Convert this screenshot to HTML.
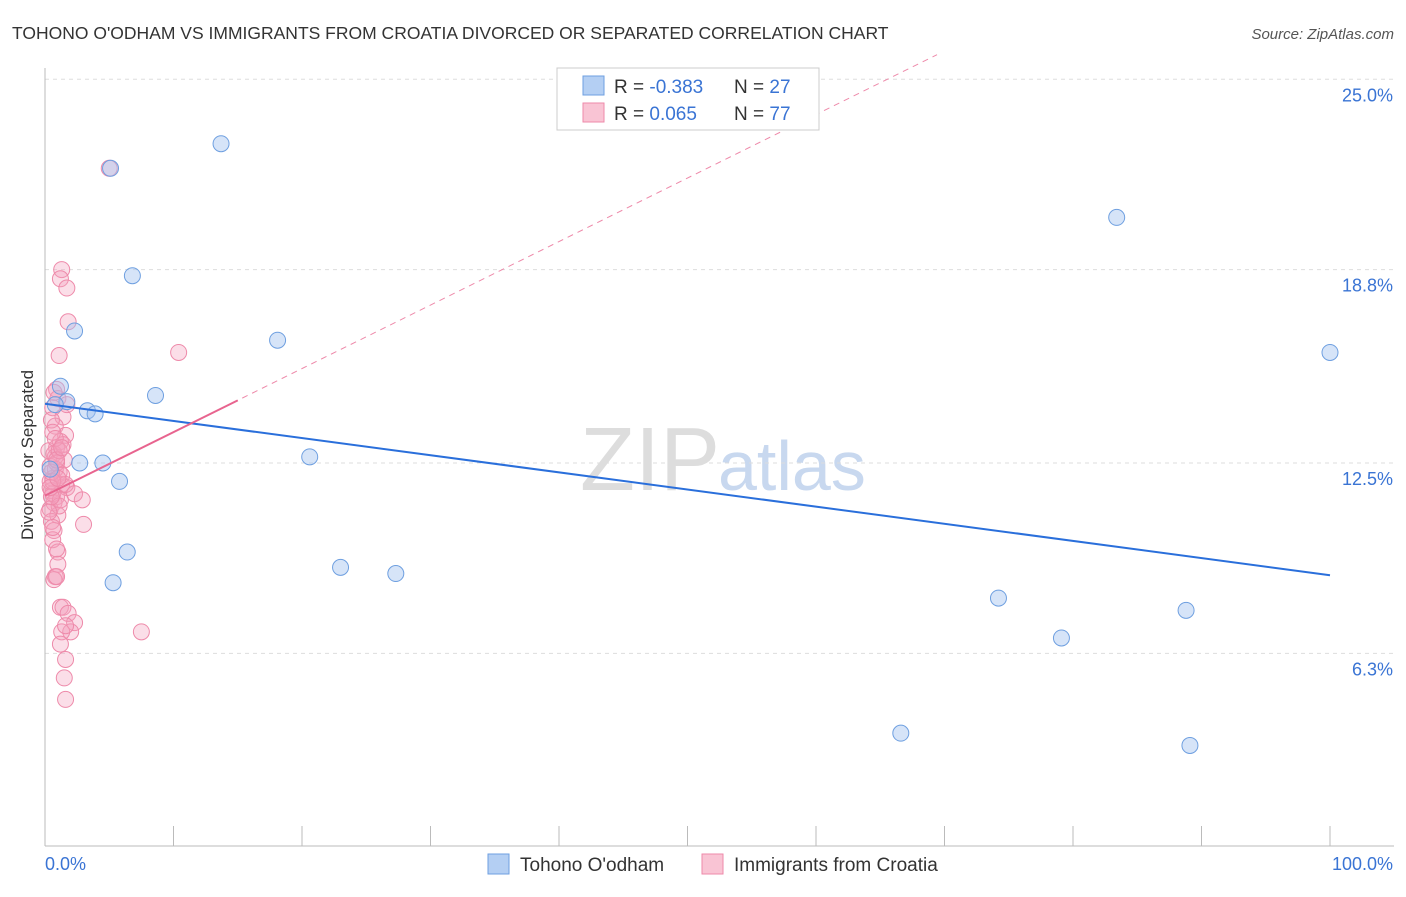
<!DOCTYPE html>
<html><head><meta charset="utf-8"><style>
body{margin:0;background:#fff;font-family:"Liberation Sans",sans-serif}
svg text{font-family:"Liberation Sans",sans-serif}
</style></head><body>
<svg width="1406" height="892" id="c">
<text x="12" y="39" font-size="17.5" fill="#333">TOHONO O'ODHAM VS IMMIGRANTS FROM CROATIA DIVORCED OR SEPARATED CORRELATION CHART</text>
<text x="1394" y="39" font-size="15" fill="#555" font-style="italic" text-anchor="end">Source: ZipAtlas.com</text>
<text x="33" y="455" font-size="17" fill="#333" text-anchor="middle" transform="rotate(-90 33 455)">Divorced or Separated</text>
<text x="720" y="490" font-size="90" fill="#ddd" text-anchor="end" font-family="Liberation Serif">ZIP</text>
<text x="718" y="490" font-size="70" fill="#c8d8ef">atlas</text>
<g id="grid"></g><g id="marks"></g>
<g>
<rect x="557" y="68" width="262" height="62" fill="#fff" stroke="#ccc"/>
<rect x="583" y="76" width="21" height="19" fill="#b4cff3" stroke="#6e9fe0"/>
<rect x="583" y="103" width="21" height="19" fill="#f9c4d4" stroke="#ee8aaa"/>
<text x="614" y="93" font-size="19" fill="#333">R = <tspan fill="#3a74d4">-0.383</tspan></text>
<text x="734" y="93" font-size="19" fill="#333">N = <tspan fill="#3a74d4">27</tspan></text>
<text x="614" y="120" font-size="19" fill="#333">R =  <tspan fill="#3a74d4"> 0.065</tspan></text>
<text x="734" y="120" font-size="19" fill="#333">N = <tspan fill="#3a74d4">77</tspan></text>
</g>
<g>
<rect x="488" y="854" width="21" height="20" fill="#b4cff3" stroke="#6e9fe0"/>
<text x="520" y="871" font-size="19" fill="#333">Tohono O'odham</text>
<rect x="702" y="854" width="21" height="20" fill="#f9c4d4" stroke="#ee8aaa"/>
<text x="734" y="871" font-size="19" fill="#333">Immigrants from Croatia</text>
</g>
</svg>
<script>
const yTicks=[6.3,12.5,18.8,25.0];
const yTickLabels=["6.3%","12.5%","18.8%","25.0%"];
const xLabels=["0.0%","100.0%"];
const blueX=[5.1,13.7,6.8,2.3,18.1,1.2,1.7,8.6,3.3,3.9,2.7,4.5,5.8,20.6,6.4,23.0,5.3,27.3,74.2,88.8,79.1,66.6,89.1,83.4,100,0.8,0.4];
const blueY=[22.1,22.9,18.6,16.8,16.5,15.0,14.5,14.7,14.2,14.1,12.5,12.5,11.9,12.7,9.6,9.1,8.6,8.9,8.1,7.7,6.8,3.7,3.3,20.5,16.1,14.4,12.3];
const pinkX=[5.0,1.3,1.2,1.7,1.8,10.4,1.1,0.9,1.0,0.6,1.4,0.8,1.6,0.5,1.2,0.9,0.7,1.5,0.4,1.1,0.8,0.6,1.3,0.5,0.9,1.7,0.7,0.4,1.0,0.6,1.2,0.5,0.8,0.3,1.4,0.6,0.9,0.4,1.1,0.7,0.5,1.3,0.8,0.3,0.6,1.0,1.6,2.3,2.9,3.0,1.7,0.7,1.1,0.9,1.0,0.8,0.7,0.9,1.2,1.4,1.8,2.3,2.0,1.3,1.6,7.5,1.2,1.6,1.5,1.6,0.5,0.9,0.6,0.4,1.3,1.0,0.6];
const pinkY=[22.1,18.8,18.5,18.2,17.1,16.1,16.0,14.9,14.6,14.3,14.0,13.7,13.4,13.9,13.2,13.0,12.8,12.6,12.4,12.2,12.7,12.0,11.8,11.6,11.4,11.7,11.2,11.0,10.8,11.5,11.3,10.6,12.3,12.9,13.1,13.5,12.5,11.9,11.1,10.3,11.4,12.1,13.3,10.9,10.0,9.6,11.8,11.5,11.3,10.5,14.4,14.8,12.9,9.7,9.2,8.8,8.7,8.8,7.8,7.8,7.6,7.3,7.0,7.0,7.2,7.0,6.6,6.1,5.5,4.8,12.2,12.6,11.9,11.7,13.0,12.0,10.4];
const X=v=>45+v/100*1285, Y=v=>463-(v-12.5)*30.7;
const ns="http://www.w3.org/2000/svg";
function mk(t,a,p){const e=document.createElementNS(ns,t);for(const k in a)e.setAttribute(k,a[k]);p.appendChild(e);return e;}
const g=document.getElementById('grid'),m=document.getElementById('marks');
yTicks.forEach((t,i)=>{
 const l=mk('line',{x1:45,x2:1394,y1:Y(t),y2:Y(t),stroke:'#ddd','stroke-dasharray':'4,4'},g);
 
 
 const tx=mk('text',{x:1393,y:Y(t)+22,'font-size':18,fill:'#3a74d4','text-anchor':'end'},g);tx.textContent=yTickLabels[i];
 
 
});
const ax=mk('line',{x1:45,x2:45,y1:68,y2:846,stroke:'#bbb'},g);


const bx=mk('line',{x1:45,x2:1394,y1:846,y2:846,stroke:'#bbb'},g);


for(let i=0;i<=10;i++){const t=mk('line',{x1:X(i*10),x2:X(i*10),y1:826,y2:846,stroke:'#bbb'},g);
 
 }
const xl0=mk('text',{x:45,y:870,'font-size':18,fill:'#3a74d4'},g);xl0.textContent=xLabels[0];


const xl1=mk('text',{x:1393,y:870,'font-size':18,fill:'#3a74d4','text-anchor':'end'},g);xl1.textContent=xLabels[1];


pinkX.forEach((x,i)=>{const c=mk('circle',{cx:X(x),cy:Y(pinkY[i]),r:8,fill:'rgba(244,160,190,0.35)',stroke:'#ee8aaa','stroke-width':1},m);
 
 });
blueX.forEach((x,i)=>{const c=mk('circle',{cx:X(x),cy:Y(blueY[i]),r:8,fill:'rgba(164,196,240,0.45)',stroke:'#6e9fe0','stroke-width':1},m);
 
 });
function fit(xs,ys){const n=xs.length,mx=xs.reduce((a,b)=>a+b)/n,my=ys.reduce((a,b)=>a+b)/n;let sxy=0,sxx=0;xs.forEach((x,i)=>{sxy+=(x-mx)*(ys[i]-my);sxx+=(x-mx)**2});const b=sxy/sxx;return [my-b*mx,b];}
const [ba,bb]=fit(blueX,blueY);
const bl=mk('line',{x1:X(0),y1:Y(ba),x2:X(100),y2:Y(ba+bb*100),stroke:'#2a6fdb','stroke-width':2},m);


const [pa,pb]=fit(pinkX,pinkY);
const pe=Math.min(96,(25.8-pa)/pb);
const pd=mk('line',{x1:X(0),y1:Y(pa),x2:X(pe),y2:Y(pa+pb*pe),stroke:'#ee8aaa','stroke-width':1,'stroke-dasharray':'6,5'},m);


const pl=mk('line',{x1:X(0),y1:Y(pa),x2:X(15),y2:Y(pa+pb*15),stroke:'#e8648f','stroke-width':2},m);


</script>
</body></html>
